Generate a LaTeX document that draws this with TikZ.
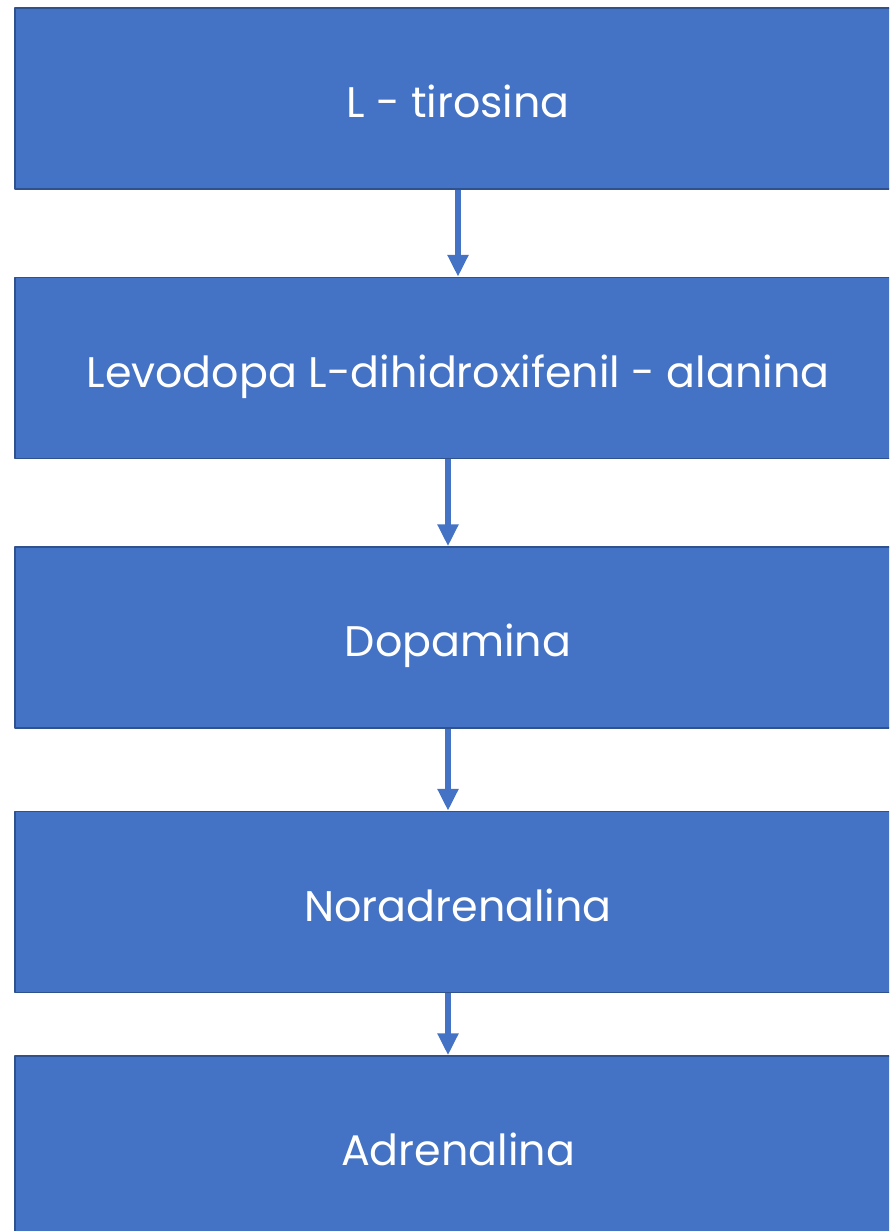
\documentclass[tikz,border=0pt]{standalone}
\usepackage{fontspec}
\setmainfont{Poppins}
\usetikzlibrary{arrows.meta,positioning}
\definecolor{azul}{HTML}{4472C4}
\definecolor{borde}{HTML}{2F528F}
\begin{document}
\begin{tikzpicture}[x=1pt,y=-1pt, line join=round, >={Triangle[width=20pt,length=22pt]},
caja/.style={draw=borde, line width=1.5pt, fill=azul, text=white, minimum width=886pt, minimum height=181pt, inner sep=0pt, text height=38pt, text depth=0pt, font=\fontsize{42.8}{50}\selectfont},
flecha/.style={->, draw=azul, line width=6pt}]
\clip (0,0) rectangle (889,1231);
\node[caja] (tir) at (458,98.5) {L - tirosina};
\node[caja, below=87pt of tir] (lev) {Levodopa L-dihidroxifenil - alanina};
\node[caja, below=87pt of lev] (dop) {Dopamina};
\node[caja, below=82pt of dop] (nor) {Noradrenalina};
\node[caja, below=62pt of nor] (adr) {Adrenalina};
\foreach\a/\b/\dx in{tir/lev/0,lev/dop/-10,dop/nor/-10,nor/adr/-10}
\draw[flecha] ([xshift=\dx]\a.south) -- ([xshift=\dx]\b.north);
\end{tikzpicture}
\end{document}
